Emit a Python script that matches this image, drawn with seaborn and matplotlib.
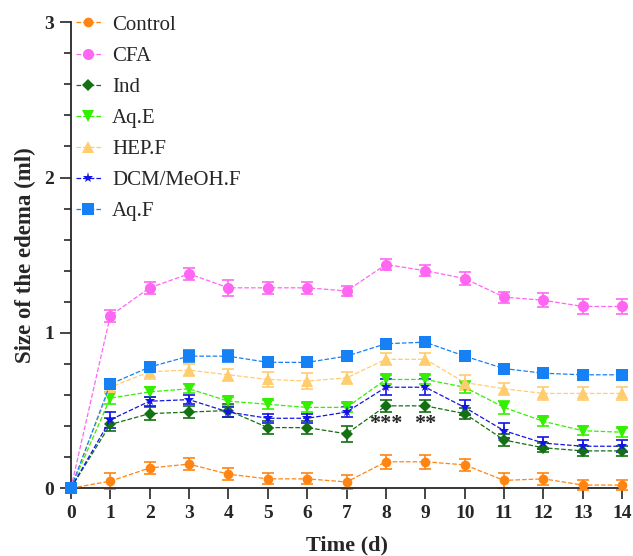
import numpy as np
import pandas as pd
import seaborn as sns
import matplotlib.pyplot as plt

sns.set_style('ticks')
plt.rcParams['font.family'] = ['Liberation Serif', 'DejaVu Serif']

days = list(range(15))

control = [0, 0.045, 0.13, 0.155, 0.09, 0.06, 0.06, 0.04, 0.17, 0.17, 0.15, 0.05, 0.06, 0.02, 0.02]
cfa = [0, 1.11, 1.29, 1.38, 1.29, 1.29, 1.29, 1.27, 1.44, 1.40, 1.35, 1.23, 1.21, 1.17, 1.17]
ind = [0, 0.41, 0.48, 0.49, 0.50, 0.39, 0.39, 0.35, 0.53, 0.53, 0.48, 0.31, 0.26, 0.24, 0.24]
aq_e = [0, 0.58, 0.62, 0.64, 0.56, 0.54, 0.52, 0.52, 0.70, 0.70, 0.65, 0.52, 0.43, 0.37, 0.36]
hep_f = [0, 0.65, 0.75, 0.76, 0.73, 0.70, 0.69, 0.71, 0.83, 0.83, 0.68, 0.64, 0.61, 0.61, 0.61]
dcm = [0, 0.44, 0.56, 0.57, 0.49, 0.45, 0.45, 0.49, 0.65, 0.65, 0.52, 0.37, 0.29, 0.27, 0.27]
aq_f = [0, 0.67, 0.78, 0.85, 0.85, 0.81, 0.81, 0.85, 0.93, 0.94, 0.85, 0.77, 0.74, 0.73, 0.73]

control_err = [0.02, 0.05, 0.04, 0.04, 0.04, 0.035, 0.035, 0.045, 0.045, 0.045, 0.04, 0.05, 0.04, 0.03, 0.03]
cfa_err = [0.02, 0.04, 0.04, 0.04, 0.05, 0.04, 0.04, 0.03, 0.035, 0.035, 0.04, 0.035, 0.045, 0.05, 0.05]
ind_err = [0.02, 0.04, 0.04, 0.04, 0.04, 0.04, 0.04, 0.05, 0.04, 0.04, 0.035, 0.04, 0.03, 0.03, 0.03]
aq_e_err = [0.02, 0.04, 0.03, 0.03, 0.03, 0.03, 0.03, 0.03, 0.03, 0.03, 0.04, 0.04, 0.03, 0.03, 0.03]
hep_f_err = [0.02, 0.04, 0.05, 0.04, 0.04, 0.05, 0.05, 0.04, 0.04, 0.04, 0.05, 0.04, 0.04, 0.04, 0.04]
dcm_err = [0.02, 0.05, 0.03, 0.03, 0.03, 0.03, 0.03, 0.03, 0.05, 0.05, 0.05, 0.05, 0.04, 0.04, 0.04]
aq_f_err = [0.02, 0.03, 0.03, 0.04, 0.04, 0.03, 0.03, 0.03, 0.03, 0.03, 0.03, 0.03, 0.03, 0.03, 0.03]

groups = ['Control', 'CFA', 'Ind', 'Aq.E', 'HEP.F', 'DCM/MeOH.F', 'Aq.F']
values = [control, cfa, ind, aq_e, hep_f, dcm, aq_f]
errors = [control_err, cfa_err, ind_err, aq_e_err, hep_f_err, dcm_err, aq_f_err]
colors = ['#ff8412', '#ff66f2', '#137013', '#33f000', '#ffcc6e', '#1414e6', '#1680f5']
markers = ['o', 'o', 'D', 'v', '^', '*', 's']
msizes = [7, 8, 6, 8, 8, 8, 8]

fig = plt.figure(figsize=(6.33, 5.56), dpi=100)
ax = fig.add_axes([0.112, 0.122, 0.871, 0.838])

for name, y, err, c, m, ms in zip(groups, values, errors, colors, markers, msizes):
    df = pd.DataFrame({'day': days, 'size': y})
    sns.lineplot(data=df, x='day', y='size', ax=ax, color=c, marker=m, markersize=ms,
                 markeredgewidth=0, linestyle='--', dashes=(2, 1.2), linewidth=0.9,
                 label=name, clip_on=False, zorder=3)
    ax.errorbar(days, y, yerr=err, fmt='none', ecolor=c, elinewidth=1.2, capsize=4,
                capthick=1.2, clip_on=False, zorder=2)

# significance marks
ax.text(8, 0.41, '***', ha='center', va='center', fontsize=16, fontweight='bold')
ax.text(9, 0.41, '**', ha='center', va='center', fontsize=16, fontweight='bold')

ax.set_xlim(0, 14)
ax.set_ylim(0, 3)
ax.set_xticks(days)
ax.set_yticks([0, 1, 2, 3])
ax.set_yticks(np.arange(0, 3.01, 0.2), minor=True)
ax.tick_params(axis='both', which='major', length=8, width=1.2, labelsize=14, pad=4)
ax.tick_params(axis='y', which='minor', length=5, width=1.2)
for lab in ax.get_xticklabels() + ax.get_yticklabels():
    lab.set_fontweight('bold')
ax.set_xlabel('Time (d)', fontsize=16, fontweight='bold', labelpad=10)
ax.set_ylabel('Size of the edema (ml)', fontsize=16.5, fontweight='bold', labelpad=6)
sns.despine(ax=ax)
for sp in ['left', 'bottom']:
    ax.spines[sp].set_linewidth(1.3)

ax.legend(loc='upper left', bbox_to_anchor=(-0.014, 1.042), frameon=False, fontsize=15,
          handlelength=1.2, handletextpad=0.55, labelspacing=0.55, borderaxespad=0.2)

fig.savefig('out.png', dpi=100)
